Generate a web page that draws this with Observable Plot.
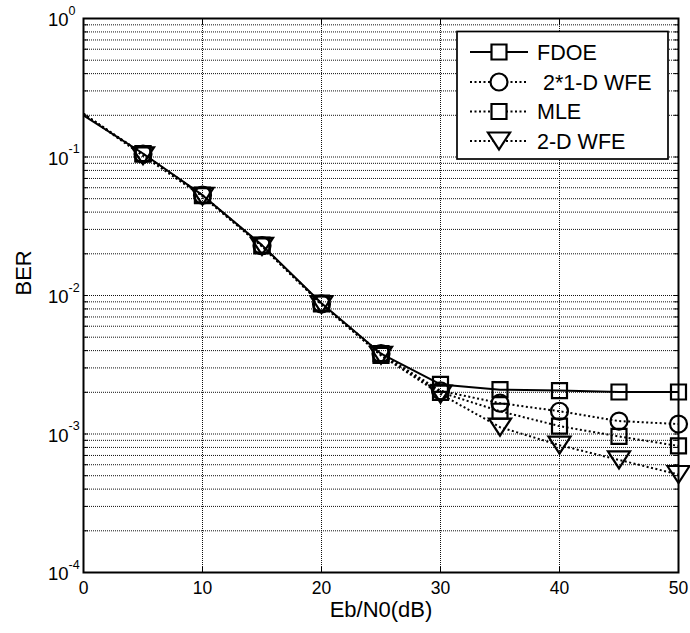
<!DOCTYPE html>
<html><head><meta charset="utf-8">
<script src="https://cdn.jsdelivr.net/npm/d3@7"></script>
<script src="https://cdn.jsdelivr.net/npm/@observablehq/plot@0.6"></script>
<style>
body{margin:0;background:#fff;}
#wrap{position:relative;width:690px;height:633px;font-family:"Liberation Sans",Arial,sans-serif;}
#legend{position:absolute;left:0;top:0;}
</style></head><body><div id="wrap"></div>
<script>
// ---- data ----
const ebn0   = [0, 5, 10, 15, 20, 25, 30, 35, 40, 45, 50];
const fdoe   = [0.2, 0.106, 0.053, 0.0231, 0.0088, 0.0038, 0.00228, 0.00209, 0.00206, 0.00201, 0.00201];
const wfe1d  = [0.205, 0.105, 0.053, 0.0229, 0.0087, 0.0038, 0.00205, 0.00167, 0.00146, 0.00124, 0.00118];
const mle    = [0.205, 0.105, 0.0525, 0.0228, 0.0087, 0.0037, 0.00200, 0.00146, 0.00114, 0.00096, 0.00082];
const wfe2d  = [0.205, 0.102, 0.052, 0.0226, 0.0086, 0.0037, 0.00194, 0.00112, 0.00083, 0.00065, 0.00051];
const seriesNames = ["FDOE", " 2*1-D WFE", "MLE", "2-D WFE"];
const xTicks = [0, 10, 20, 30, 40, 50];
const yExponents = [0, -1, -2, -3, -4];
const yGridTicks = d3.range(-4, 0).flatMap(e => d3.range(1, 10).map(m => +(m * 10 ** e).toPrecision(3))).concat([1]);
const xLabel = "Eb/N0(dB)";
const yLabel = "BER";

// ---- symbols ----
const squareSym = {draw(ctx, size){ const r = Math.sqrt(size/Math.PI); ctx.rect(-r, -r, 2*r, 2*r); }};
const triDownSym = {draw(ctx, size){ const r = Math.sqrt(size/Math.PI); const w = r*1.3; ctx.moveTo(-w,-r); ctx.lineTo(w,-r); ctx.lineTo(0,r); ctx.closePath(); }};

const series = [
  {name: seriesNames[0], values: fdoe,  symbol: squareSym,     r: 7.5, dash: null},
  {name: seriesNames[1], values: wfe1d, symbol: "circle",      r: 8.5, dash: "2,2.5"},
  {name: seriesNames[2], values: mle,   symbol: squareSym,     r: 7.5, dash: "2,2.5"},
  {name: seriesNames[3], values: wfe2d, symbol: triDownSym,    r: 8.5, dash: "2,2.5"}
];
const table = s => ebn0.map((x, i) => ({x, y: s.values[i], series: s.name}));

const font = '"Liberation Sans", Arial, sans-serif';
const gridStyle = {stroke: "#111", strokeOpacity: 1, strokeDasharray: "1,1", strokeWidth: 1};

const marks = [
  Plot.gridY(yGridTicks, gridStyle),
  Plot.gridX(xTicks, gridStyle),
  Plot.axisY(yGridTicks, {anchor: "left", tickSize: -5, tickFormat: () => "", strokeWidth: 1}),
  Plot.axisY(yGridTicks, {anchor: "right", tickSize: -5, tickFormat: () => "", strokeWidth: 1}),
  Plot.axisX(xTicks, {anchor: "top", tickSize: -5, tickFormat: () => ""}),
  Plot.axisX(xTicks, {anchor: "bottom", tickSize: -5, tickFormat: () => ""}),
  Plot.axisX(xTicks, {anchor: "bottom", tickSize: 0, tickPadding: 9, fontSize: 17.5}),
  Plot.text(yExponents, {frameAnchor: "left", y: e => 10 ** e, text: () => "10", textAnchor: "end", dx: -15, dy: 2, fontSize: 18.5}),
  Plot.text(yExponents, {frameAnchor: "left", y: e => 10 ** e, text: e => String(e), textAnchor: "start", dx: -15, dy: -8, fontSize: 12.5}),
  Plot.text([xLabel], {frameAnchor: "bottom", text: d => d, dy: 44, fontSize: 22}),
  Plot.text([yLabel], {frameAnchor: "left", text: d => d, rotate: -90, dx: -60, fontSize: 22})
];
for (const s of series) {
  marks.push(Plot.line(table(s), {x: "x", y: "y", stroke: "black", strokeWidth: 2, strokeDasharray: s.dash, strokeLinecap: "butt"}));
}
for (const s of series) {
  marks.push(Plot.dot(table(s), {filter: d => d.x > 0, x: "x", y: "y", symbol: () => s.symbol, r: s.r, stroke: "black", strokeWidth: 2.2, fill: "none"}));
}
marks.push(Plot.frame({stroke: "black", strokeWidth: 2}));

const chart = Plot.plot({
  width: 690, height: 633,
  marginLeft: 83, marginRight: 12, marginTop: 18, marginBottom: 61,
  style: {fontFamily: font, fontSize: "17px", color: "black", background: "white", overflow: "visible"},
  x: {domain: [0, 50], label: null, axis: null},
  y: {type: "log", domain: [1e-4, 1], label: null, axis: null},
  symbol: {type: "identity"},
  marks
});
document.getElementById("wrap").appendChild(chart);

// ---- legend (inside the axes, top right) ----
const lg = d3.select("#wrap").append("svg").attr("id", "legend").attr("width", 690).attr("height", 633)
  .style("font-family", font).style("pointer-events", "none");
const box = {x: 457, y: 31.5, w: 211, h: 127.5};
lg.append("rect").attr("x", box.x).attr("y", box.y).attr("width", box.w).attr("height", box.h)
  .attr("fill", "white").attr("stroke", "black").attr("stroke-width", 1.7);
const rowY = [52, 82, 111.5, 141];
series.forEach((s, i) => {
  const g = lg.append("g").attr("transform", `translate(0,${rowY[i]})`);
  g.append("line").attr("x1", 470).attr("x2", 528).attr("y1", 0).attr("y2", 0)
    .attr("stroke", "black").attr("stroke-width", 2).attr("stroke-dasharray", s.dash);
  const sym = typeof s.symbol === "string" ? d3.symbolCircle : s.symbol;
  g.append("path").attr("transform", "translate(499,0)")
    .attr("d", d3.symbol(sym, Math.PI * s.r * s.r)())
    .attr("fill", "white").attr("stroke", "black").attr("stroke-width", 2.2);
  g.append("text").attr("x", 537).attr("y", 0).attr("dy", "0.36em")
    .attr("font-size", 21.5).attr("xml:space", "preserve").style("white-space", "pre").text(s.name);
});
</script></body></html>
